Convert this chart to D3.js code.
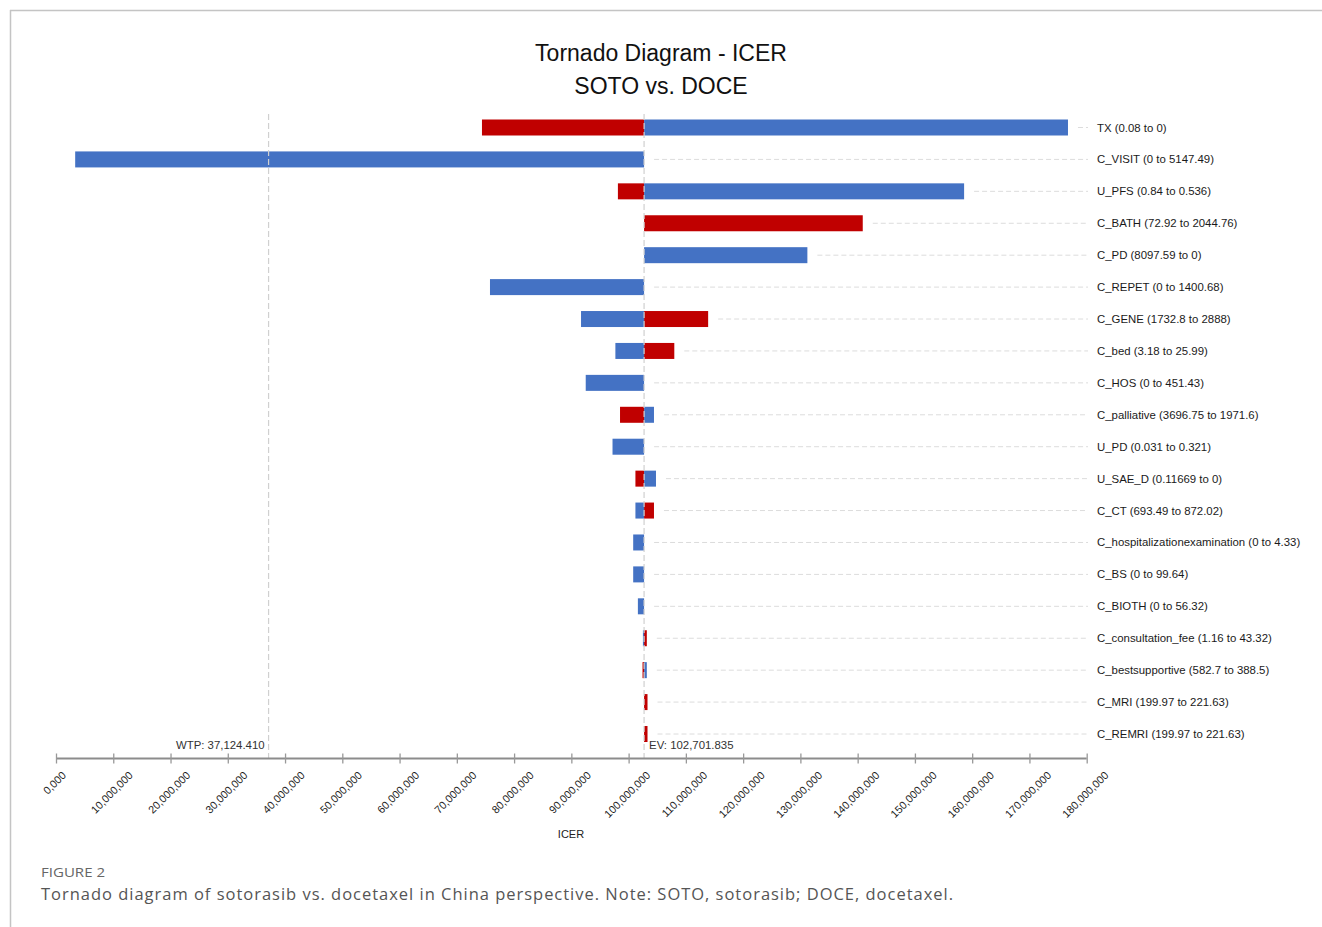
<!DOCTYPE html>
<html>
<head>
<meta charset="utf-8">
<script src="https://cdn.jsdelivr.net/npm/d3@7"></script>
<style>
  body { margin: 0; background: #fff; }
  svg { display: block; font-family: "Liberation Sans", Arial, sans-serif; }
</style>
</head>
<body>
<div id="chart"></div>
<script>
// parameters, top to bottom
const params = [
  "TX (0.08 to 0)",
  "C_VISIT (0 to 5147.49)",
  "U_PFS (0.84 to 0.536)",
  "C_BATH (72.92 to 2044.76)",
  "C_PD (8097.59 to 0)",
  "C_REPET (0 to 1400.68)",
  "C_GENE (1732.8 to 2888)",
  "C_bed (3.18 to 25.99)",
  "C_HOS (0 to 451.43)",
  "C_palliative (3696.75 to 1971.6)",
  "U_PD (0.031 to 0.321)",
  "U_SAE_D (0.11669 to 0)",
  "C_CT (693.49 to 872.02)",
  "C_hospitalizationexamination (0 to 4.33)",
  "C_BS (0 to 99.64)",
  "C_BIOTH (0 to 56.32)",
  "C_consultation_fee (1.16 to 43.32)",
  "C_bestsupportive (582.7 to 388.5)",
  "C_MRI (199.97 to 221.63)",
  "C_REMRI (199.97 to 221.63)"
];

// ICER at the end of the red bar / blue bar (null = no bar)
const redVals = [
  74390000, null, 98130000, 140890000, null, null, 113890000, 107980000, null, 98500000,
  null, 101190000, 104430000, null, null, null, 103180000, 102430000, 103300000, 103300000
];
const blueVals = [
  176730000, 3350000, 158590000, null, 131220000, 75790000, 91690000, 97690000, 92510000, 104430000,
  97190000, 104780000, 101190000, 100800000, 100800000, 101620000, 102500000, 103180000, null, null
];

const EV = 102701835;
const WTP = 37124410;

const tickValues = d3.range(0, 180000001, 10000000);
const tickLabels = [
  "0,000", "10,000,000", "20,000,000", "30,000,000", "40,000,000", "50,000,000",
  "60,000,000", "70,000,000", "80,000,000", "90,000,000", "100,000,000", "110,000,000",
  "120,000,000", "130,000,000", "140,000,000", "150,000,000", "160,000,000",
  "170,000,000", "180,000,000"
];

const W = 1322, H = 927;
const svg = d3.select("#chart").append("svg").attr("width", W).attr("height", H);

// frame
svg.append("line").attr("x1", 10).attr("x2", W).attr("y1", 10.5).attr("y2", 10.5)
  .attr("stroke", "#c4c4c4").attr("stroke-width", 1.5);
svg.append("line").attr("x1", 10.5).attr("x2", 10.5).attr("y1", 10).attr("y2", H)
  .attr("stroke", "#c4c4c4").attr("stroke-width", 1.5);

// titles
svg.append("text").attr("x", 661).attr("y", 61).attr("text-anchor", "middle")
  .style("font-size", "23px").style("fill", "#111").text("Tornado Diagram - ICER");
svg.append("text").attr("x", 661).attr("y", 94).attr("text-anchor", "middle")
  .style("font-size", "23px").style("fill", "#111").text("SOTO vs. DOCE");

const axisY = 758.5;
const x = d3.scaleLinear().domain([0, 180000000]).range([56, 1086.7]);
const y = d3.scalePoint().domain(params).range([127.5, 734]);
const barH = 16;

// dashed guides from bar end to label
const rows = params.map((p, i) => ({ p, r: redVals[i], b: blueVals[i] }));
svg.append("g").selectAll("line").data(rows).join("line")
  .attr("x1", d => Math.max(x(EV), d.r == null ? 0 : x(d.r), d.b == null ? 0 : x(d.b)) + 10)
  .attr("x2", 1088)
  .attr("y1", d => y(d.p)).attr("y2", d => y(d.p))
  .attr("stroke", "#dcdcdc").attr("stroke-width", 1).attr("stroke-dasharray", "5,3");

// bars
const bars = svg.append("g");
bars.selectAll(".red").data(rows.filter(d => d.r != null)).join("rect")
  .attr("class", "red")
  .attr("x", d => Math.min(x(d.r), x(EV)))
  .attr("width", d => Math.abs(x(d.r) - x(EV)))
  .attr("y", d => y(d.p) - barH / 2).attr("height", barH)
  .attr("fill", "#c00000");
bars.selectAll(".blue").data(rows.filter(d => d.b != null)).join("rect")
  .attr("class", "blue")
  .attr("x", d => Math.min(x(d.b), x(EV)))
  .attr("width", d => Math.abs(x(d.b) - x(EV)))
  .attr("y", d => y(d.p) - barH / 2).attr("height", barH)
  .attr("fill", "#4472c4");

// reference lines (drawn over bars)
[WTP, EV].forEach(v => {
  svg.append("line").attr("x1", x(v)).attr("x2", x(v)).attr("y1", 114).attr("y2", axisY)
    .attr("stroke", "#d0d0d0").attr("stroke-width", 1.2).attr("stroke-dasharray", "6,3");
});
svg.append("text").attr("x", x(WTP) - 4).attr("y", 749).attr("text-anchor", "end")
  .style("font-size", "11.4px").style("fill", "#333").text("WTP: 37,124.410");
svg.append("text").attr("x", x(EV) + 5).attr("y", 749)
  .style("font-size", "11.4px").style("fill", "#333").text("EV: 102,701.835");

// row labels
svg.append("g").selectAll("text").data(params).join("text")
  .attr("x", 1097).attr("y", d => y(d) + 4)
  .style("font-size", "11.4px").style("fill", "#1a1a1a").text(d => d);

// x axis
const axis = svg.append("g").attr("transform", `translate(0,${axisY})`)
  .call(d3.axisBottom(x).tickValues(tickValues).tickSize(5).tickFormat((d, i) => tickLabels[i]));
axis.select(".domain").attr("stroke", "#8c8c8c").attr("stroke-width", 2.2).attr("d", `M${x(0)},0H${x(180000000)}`);
axis.selectAll(".tick line").attr("y1", -5).attr("y2", 5).attr("stroke", "#999").attr("stroke-width", 1.3);
axis.selectAll(".tick text").each(function () {
  const t = d3.select(this);
  t.attr("y", null).attr("dy", null).attr("text-anchor", "end")
    .style("font-size", "10.8px").style("fill", "#1a1a1a").style("font-family", "Liberation Sans, Arial, sans-serif");
  const L = this.getComputedTextLength();
  const h = 7.7;
  const ax = -2 + 0.354 * (L + h);
  const ay = 12 + 0.707 * h;
  t.attr("transform", `translate(${ax},${ay}) rotate(-45)`);
});

svg.append("text").attr("x", 571).attr("y", 838).attr("text-anchor", "middle")
  .style("font-size", "11px").style("fill", "#222").text("ICER");

// caption
svg.append("text").attr("x", 41).attr("y", 877)
  .style("font-family", "'Open Sans', sans-serif").style("font-size", "13px").style("fill", "#666")
  .attr("textLength", 64).attr("lengthAdjust", "spacingAndGlyphs")
  .text("FIGURE 2");
svg.append("text").attr("x", 41).attr("y", 900)
  .style("font-family", "'Open Sans', sans-serif").style("font-size", "16.5px").style("fill", "#555")
  .attr("textLength", 912).attr("lengthAdjust", "spacing")
  .text("Tornado diagram of sotorasib vs. docetaxel in China perspective. Note: SOTO, sotorasib; DOCE, docetaxel.");
</script>
</body>
</html>
